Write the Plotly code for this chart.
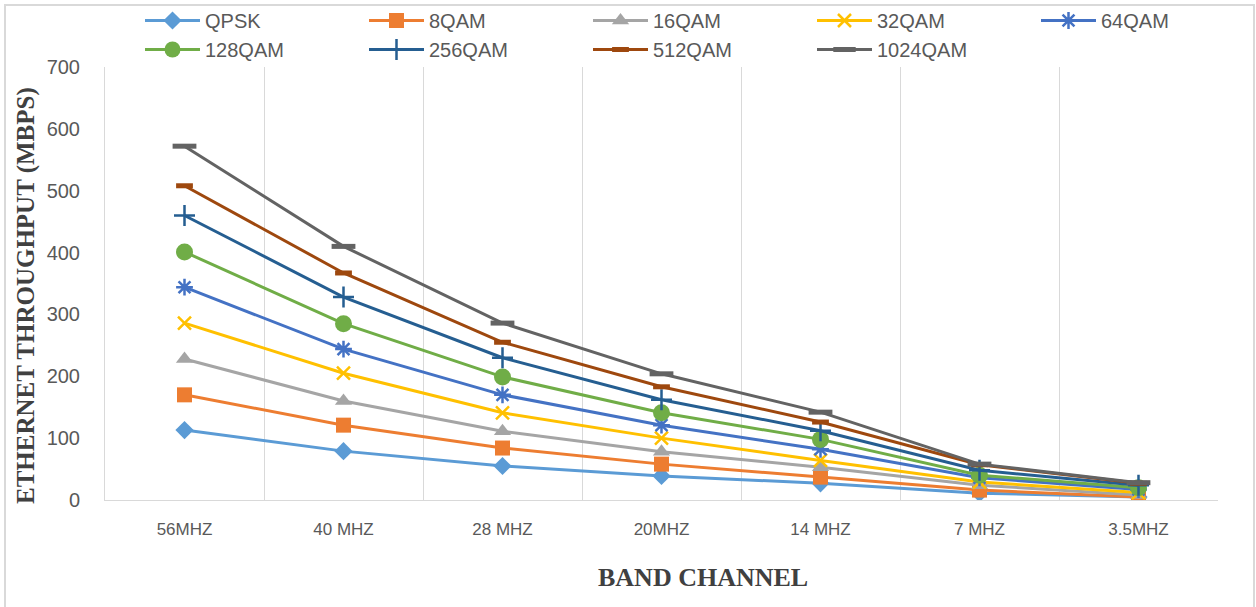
import plotly.graph_objects as go

# Band channels on the x axis
channels = ["56MHZ", "40 MHZ", "28 MHZ", "20MHZ", "14 MHZ", "7 MHZ", "3.5MHZ"]

# Ethernet throughput (Mbps) per modulation scheme
qpsk = [113, 79, 55, 39, 27, 11, 5]
qam8 = [170, 121, 84, 58, 37, 16, 5]
qam16 = [228, 160, 111, 78, 53, 24, 8]
qam32 = [286, 205, 141, 100, 64, 29, 12]
qam64 = [344, 244, 170, 121, 82, 36, 17]
qam128 = [401, 285, 199, 141, 98, 40, 20]
qam256 = [460, 328, 230, 162, 112, 48, 24]
qam512 = [508, 367, 255, 183, 126, 57, 27]
qam1024 = [572, 410, 286, 204, 142, 58, 28]

series = [
    ("QPSK", qpsk, "#5B9BD5", "diamond", 14, 0),
    ("8QAM", qam8, "#ED7D31", "square", 15, 0),
    ("16QAM", qam16, "#A5A5A5", "triangle-up", 15, 0),
    ("32QAM", qam32, "#FFC000", "x-thin-open", 13, 2.5),
    ("64QAM", qam64, "#4472C4", "asterisk-open", 14, 2.5),
    ("128QAM", qam128, "#70AD47", "circle", 17, 0),
    ("256QAM", qam256, "#255E91", "cross-thin-open", 15, 2.5),
    ("512QAM", qam512, "#9E480E", "line-ew-open", 12, 5),
    ("1024QAM", qam1024, "#636363", "line-ew-open", 17, 5),
]

fig = go.Figure()
for name, vals, color, symbol, size, mlw in series:
    marker = dict(symbol=symbol, size=size, color=color)
    if mlw:
        marker["line"] = dict(color=color, width=mlw)
    else:
        marker["line"] = dict(width=0)
    fig.add_trace(go.Scatter(
        x=channels, y=vals, name=name, mode="lines+markers",
        line=dict(color=color, width=3), marker=marker,
    ))

W, H = 1256, 607
L, R, T, B = 105, 0, 67, 107
plot_right = 1218          # right edge of the axes area in pixels
pw, ph = W - L - R, H - T - B


def px_x(x):
    return (x - L) / pw


def px_y(y):
    return (H - B - y) / ph


title_font = dict(family="Liberation Serif, Times New Roman, serif", size=26, color="#404040")

fig.update_layout(
    width=W, height=H,
    margin=dict(l=L, r=R, t=T, b=B, autoexpand=False),
    paper_bgcolor="white", plot_bgcolor="white",
    font=dict(family="Liberation Sans, Arial, sans-serif", color="#595959"),
    legend=dict(
        orientation="h", x=px_x(140), xanchor="left",
        y=px_y(1), yanchor="top",
        itemwidth=55, entrywidth=154, entrywidthmode="pixels",
        font=dict(size=20, color="#595959"), bgcolor="rgba(0,0,0,0)",
    ),
    xaxis=dict(
        type="category", range=[-0.5, 6.5], tickson="boundaries",
        domain=[0, px_x(plot_right)],
        showgrid=True, gridcolor="#D9D9D9", gridwidth=1,
        showline=True, linecolor="#D9D9D9", linewidth=1, ticks="",
        tickfont=dict(size=17, color="#595959"), ticklabelstandoff=14,
    ),
    yaxis=dict(
        range=[0, 700], dtick=100, showgrid=False, zeroline=False,
        showline=True, linecolor="#D9D9D9", linewidth=1, ticks="",
        tickfont=dict(size=20, color="#595959"), ticklabelstandoff=20,
    ),
    annotations=[
        dict(text="<b>BAND CHANNEL</b>", xref="paper", yref="paper",
             x=px_x(703), y=px_y(577), xanchor="center", yanchor="middle",
             showarrow=False, font=title_font),
        dict(text="<b>ETHERNET THROUGHPUT (MBPS)</b>", xref="paper", yref="paper",
             x=px_x(26), y=px_y(296), xanchor="center", yanchor="middle",
             textangle=-90, showarrow=False, font=dict(title_font, size=25)),
    ],
    shapes=[dict(
        type="rect", xref="paper", yref="paper",
        x0=px_x(5), x1=px_x(W - 2),
        y0=px_y(H + 5), y1=px_y(5),
        line=dict(color="#D9D9D9", width=2), fillcolor="rgba(0,0,0,0)", layer="below",
    )],
)

fig.write_html("out.html")
